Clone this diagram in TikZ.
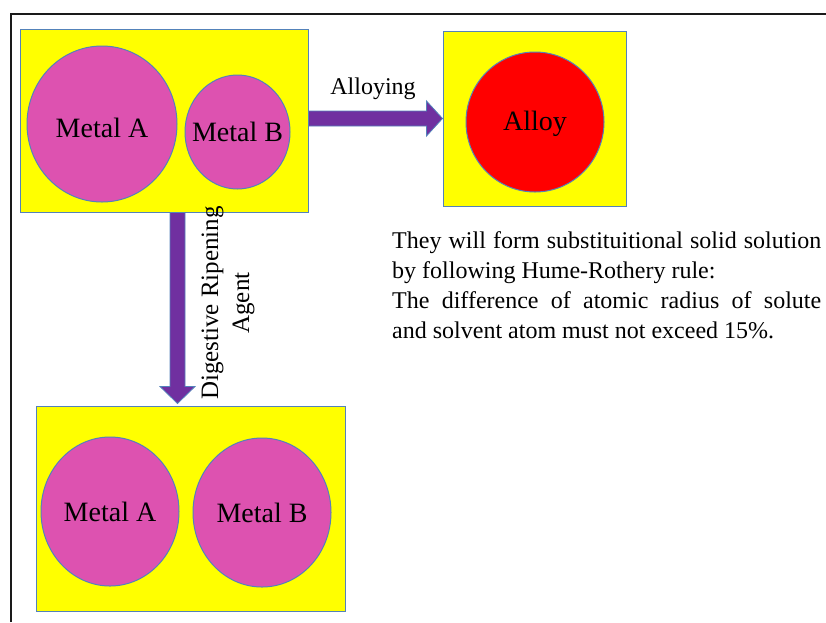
\documentclass[tikz,border=0pt]{standalone}
\usepackage{fontspec}
\setmainfont{Liberation Serif}
\usetikzlibrary{calc, shapes.geometric}

\begin{document}
\begin{tikzpicture}[x=1pt, y=-1pt,
    every node/.style={font=\rmfamily},
]

% ---------------------------------------------------------------- colours
\definecolor{panelfill}{HTML}{FFFF00}    % the three panels
\definecolor{metalfill}{HTML}{DD52B0}    % pure metals
\definecolor{alloyfill}{HTML}{FF0000}    % the alloy
\definecolor{arrowfill}{HTML}{7030A0}    % process arrows
\definecolor{edgecolor}{HTML}{5482BA}    % every outline
\definecolor{framecolor}{HTML}{1A1A1A}

\tikzset{
    panel/.style={rectangle, draw=edgecolor, line width=1pt, fill=panelfill,
                  inner sep=0pt},
    metal/.style={ellipse, draw=edgecolor, line width=1pt, fill=metalfill,
                  inner sep=0pt},
    alloyball/.style={metal, fill=alloyfill},
    bigtext/.style={font=\fontsize{28}{32}\selectfont, text=black},
    steptext/.style={font=\fontsize{24}{29}\selectfont, text=black},
    fatarrow/.style={draw=edgecolor, line width=0.8pt, fill=arrowfill,
                     line join=miter},
}

% ================================================================
% GEOMETRY (1 unit = 1pt, y grows downwards)
%   page            0 .. 826  x  0 .. 622
%   metals panel    x = 20 .. 308,  y = 29 .. 212
%   alloy panel     x = 443 .. 626, y = 31 .. 206
%   pair panel      x = 36 .. 345,  y = 406 .. 611
%   down arrow      x = 177.5
% ================================================================
\useasboundingbox (0,0) rectangle (826,622);

% ---------------------------------------------------------------- frame
\draw[framecolor, line width=2pt] (11,622) -- (11,14) -- (826,14);

% ---------------------------------------------------------------- metals before
\node[panel, minimum width=288pt, minimum height=183pt] (metals) at (164,120.5) {};
\node[metal, minimum width=150pt, minimum height=156pt,
      label={[bigtext, yshift=-4pt]center:Metal A}] (metalA) at (102,124) {};
\node[metal, minimum width=105pt, minimum height=114pt,
      label={[bigtext]center:Metal B}] (metalB) at (237.5,132) {};

% ---------------------------------------------------------------- alloy
\node[panel, minimum width=183pt, minimum height=175pt] (alloybox) at (534.5,118.5) {};
\node[alloyball, minimum width=138pt, minimum height=140pt,
      label={[bigtext, yshift=-2pt]center:Alloy}] (alloy) at (535,122) {};

% ---------------------------------------------------------------- metals after ripening
\node[panel, minimum width=309pt, minimum height=205pt] (pair) at (190.5,508.5) {};
\node[metal, minimum width=138pt, minimum height=149pt,
      label={[bigtext]center:Metal A}] (pairA) at (110,511.5) {};
\node[metal, minimum width=138pt, minimum height=149pt,
      label={[bigtext]center:Metal B}] (pairB) at (262,512.5) {};

% ---------------------------------------------------------------- alloying arrow
\coordinate (alstart) at (metals.east |- alloybox.west);
\draw[fatarrow]
    ($(alstart)+(0,-7.5)$) -- ($(alloybox.west)+(-16,-7.5)$)
    -- ($(alloybox.west)+(-16,-17.5)$) -- (alloybox.west)
    -- ($(alloybox.west)+(-16,17.5)$) -- ($(alloybox.west)+(-16,7.5)$)
    -- ($(alstart)+(0,7.5)$) -- cycle;
\node[steptext] (alloying) at (373,89) {Alloying};

% ---------------------------------------------------------------- ripening arrow
\coordinate (ripen) at (177.5,0);
\coordinate (drtop) at (metals.south -| ripen);
\coordinate (drtip) at ($(pair.north -| ripen)+(0,-2)$);
\draw[fatarrow]
    ($(drtop)+(-7.5,0)$) -- ($(drtip)+(-7.5,-17)$)
    -- ($(drtip)+(-17.5,-17)$) -- (drtip)
    -- ($(drtip)+(17.5,-17)$) -- ($(drtip)+(7.5,-17)$)
    -- ($(drtop)+(7.5,0)$) -- cycle;
\node[steptext, rotate=90, align=center, font=\fontsize{25}{31}\selectfont]
    (ripening) at (228,303) {Digestive Ripening\\Agent};

% ---------------------------------------------------------------- the rule
\node[steptext, font=\fontsize{24}{30}\selectfont, anchor=north west,
      inner sep=0pt, text width=429pt, align=justify] (rule) at (392,231)
    {They will form substituitional solid solution\linebreak
     by following Hume-Rothery rule:\\
     The difference of atomic radius of solute\linebreak
     and solvent atom must not exceed 15\%.};

\end{tikzpicture}
\end{document}
